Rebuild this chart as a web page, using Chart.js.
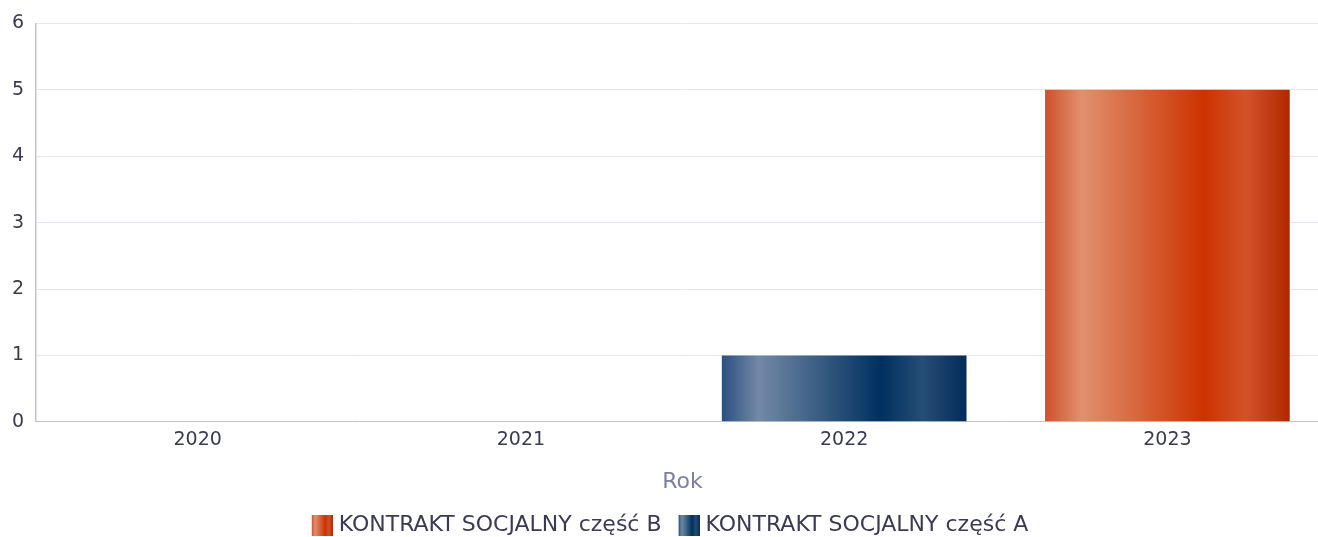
<!DOCTYPE html>
<html>
<head>
<meta charset="utf-8">
<script src="https://cdn.jsdelivr.net/npm/chart.js@4"></script>
<style>
  html, body { margin: 0; padding: 0; background: #fff; overflow: hidden; width: 1318px; height: 537px; }
  #wrap { width: 1329px; height: 537px; }
</style>
</head>
<body>
<div id="wrap"><canvas id="c"></canvas></div>
<script>
// dane wykresu
const years = ['2020', '2021', '2022', '2023'];
const partB = [null, null, null, 5];
const partA = [null, null, 1, null];
const yTicks = [0, 1, 2, 3, 4, 5, 6];

const BAR_PCT = 0.757;
const FONT = "'DejaVu Sans', sans-serif";

// cylindryczny gradient poziomy
const STOPS = {
  blue: ['#2a5080', '#7289a6', '#00305f', '#264d75', '#032c5a'],
  orange: ['#d0502c', '#e0906e', '#cc3300', '#d4522a', '#b02800']
};
function addStops(g, cols) {
  g.addColorStop(0, cols[0]);
  g.addColorStop(0.15, cols[1]);
  g.addColorStop(0.65, cols[2]);
  g.addColorStop(0.82, cols[3]);
  g.addColorStop(1, cols[4]);
  return g;
}
function barFill(key) {
  return c => {
    const chart = c.chart, x = chart.scales.x;
    if (!x || c.dataIndex === undefined) return STOPS[key][2];
    const cx = x.getPixelForValue(c.dataIndex);
    const hw = x.width / years.length * BAR_PCT / 2;
    return addStops(chart.ctx.createLinearGradient(cx - hw, 0, cx + hw, 0), STOPS[key]);
  };
}
// ikonka legendy: pusty margines z lewej, kwadrat 21x21 z prawej
function legendBox(key) {
  const cv = document.createElement('canvas');
  cv.width = 37; cv.height = 21;
  const g = cv.getContext('2d');
  g.fillStyle = addStops(g.createLinearGradient(16, 0, 37, 0), STOPS[key]);
  g.fillRect(16, 0, 21, 21);
  return cv;
}
const boxes = { B: legendBox('orange'), A: legendBox('blue') };

new Chart(document.getElementById('c'), {
  type: 'bar',
  data: {
    labels: years,
    datasets: [
      { label: 'KONTRAKT SOCJALNY część B', data: partB, backgroundColor: barFill('orange'), box: 'B' },
      { label: 'KONTRAKT SOCJALNY część A', data: partA, backgroundColor: barFill('blue'), box: 'A' }
    ]
  },
  options: {
    responsive: true, maintainAspectRatio: false, animation: false,
    categoryPercentage: 1, barPercentage: BAR_PCT,
    layout: { padding: { top: 4, right: 0, left: 0, bottom: -9 } },
    plugins: {
      tooltip: { enabled: false },
      legend: {
        position: 'bottom',
        labels: {
          usePointStyle: true, pointStyleWidth: 27, color: '#3a3a55', padding: 6, boxHeight: 12,
          font: { family: FONT, size: 22 },
          generateLabels: ch => ch.data.datasets.map((d, i) => ({
            text: d.label, pointStyle: boxes[d.box], datasetIndex: i,
            fillStyle: 'transparent', strokeStyle: 'transparent', lineWidth: 0, fontColor: '#3a3a55'
          }))
        }
      }
    },
    scales: {
      x: {
        stacked: true,
        grid: { display: false, drawTicks: false },
        border: { color: '#bfc2d5', width: 1 },
        ticks: { color: '#3a3a50', padding: 7, font: { family: FONT, size: 19 } },
        title: { display: true, text: 'Rok', color: '#7c7fa6', padding: { top: 10, bottom: 13 }, font: { family: FONT, size: 22 } }
      },
      y: {
        stacked: true, min: 0, max: 6,
        afterBuildTicks: s => { s.ticks = yTicks.map(v => ({ value: v })); },
        grid: { color: '#e6e6ef', drawTicks: false },
        border: { color: '#bfc2d5', width: 1.5 },
        ticks: { color: '#3a3a50', padding: 12, font: { family: FONT, size: 19 } }
      }
    }
  }
});
</script>
</body>
</html>
